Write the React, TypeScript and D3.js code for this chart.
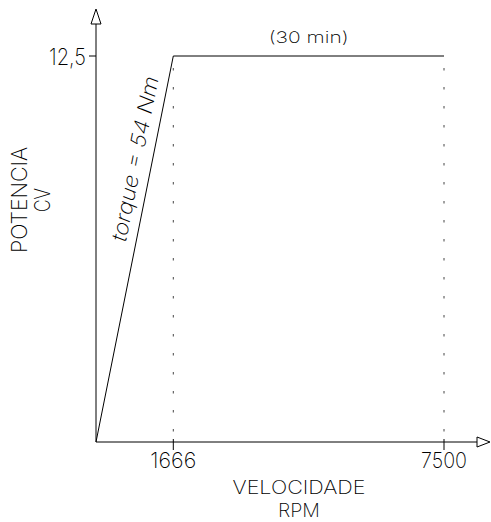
import React from "react";
import * as d3 from "d3";

const speeds = [0, 1666, 7500];
const power = [0, 12.5, 12.5];
const xTicks = [1666, 7500];
const xTickLabels = ["1666", "7500"];
const yTicks = [12.5];
const yTickLabels = ["12,5"];
const curveLabel = "torque = 54 Nm";
const dutyLabel = "(30 min)";
const xTitle = ["VELOCIDADE", "RPM"];
const yTitle = ["POTENCIA", "CV"];

const W = 491;
const H = 522;
const FONT = "Inter, Roboto, 'DejaVu Sans', sans-serif";
const WEIGHT = 200;

export default function App() {
  const x = d3.scaleLinear().domain([0, 7500]).range([96, 444]);
  const y = d3.scaleLinear().domain([0, 12.5]).range([442, 56]);
  const pts = speeds.map((s, i) => [x(s), y(power[i])] as [number, number]);
  const line = d3.line<[number, number]>()(pts) || "";

  const x0 = x(0);
  const y0 = y(0);

  const [ax, ay] = pts[0];
  const [bx, by] = pts[1];
  const ang = (Math.atan2(by - ay, bx - ax) * 180) / Math.PI;
  const len = Math.hypot(bx - ax, by - ay);
  const ux = (bx - ax) / len, uy = (by - ay) / len;
  const nx = uy, ny = -ux;
  const t = 0.725;
  const off = 10;
  const lx = ax + (bx - ax) * t + nx * off;
  const ly = ay + (by - ay) * t + ny * off;

  const txt = { fontFamily: FONT, fontWeight: WEIGHT, fill: "#000" } as const;

  return (
    <svg width={W} height={H} style={{ position: "absolute", left: 0, top: 0, background: "#fff" }}>
      <rect width={W} height={H} fill="#fff" />
      {xTicks.map((v) => (
        <line key={"d" + v} x1={x(v)} x2={x(v)} y1={y(12.5) + 12} y2={y0 - 4}
          stroke="#444" strokeWidth={1} strokeDasharray="2.5,16.5" />
      ))}
      <line x1={x0} x2={477} y1={y0} y2={y0} stroke="#000" strokeWidth={1} />
      <path d={`M477,${y0 - 5}L490,${y0}L477,${y0 + 5}Z`} fill="#fff" stroke="#000" strokeWidth={1} />
      <line x1={x0} x2={x0} y1={y0} y2={24} stroke="#000" strokeWidth={1} />
      <path d={`M${x0 - 5},24L${x0},9L${x0 + 5},24Z`} fill="#fff" stroke="#000" strokeWidth={1} />
      {xTicks.map((v, i) => (
        <g key={"xt" + v}>
          <line x1={x(v)} x2={x(v)} y1={y0 - 3} y2={y0 + 8} stroke="#000" strokeWidth={1} />
          <text x={x(v)} y={468} textAnchor="middle" {...txt}
            fontSize={22} textLength={46} lengthAdjust="spacingAndGlyphs">{xTickLabels[i]}</text>
        </g>
      ))}
      {yTicks.map((v, i) => (
        <g key={"yt" + v}>
          <line x1={x0 - 7} x2={x0} y1={y(v)} y2={y(v)} stroke="#000" strokeWidth={1} />
          <text x={86} y={y(v) + 8.5} textAnchor="end" {...txt}
            fontSize={23} textLength={37} lengthAdjust="spacingAndGlyphs">{yTickLabels[i]}</text>
        </g>
      ))}
      <path d={line} fill="none" stroke="#000" strokeWidth={1} />
      <text x={x(4583)} y={43} textAnchor="middle" {...txt}
        fontSize={16} textLength={80} lengthAdjust="spacingAndGlyphs">{dutyLabel}</text>
      <text transform={`translate(${lx},${ly}) rotate(${ang})`} textAnchor="middle" {...txt}
        fontStyle="italic" fontSize={21} textLength={168} lengthAdjust="spacingAndGlyphs">{curveLabel}</text>
      <text textAnchor="middle" {...txt} fontSize={19}>
        <tspan x={299} y={494} textLength={133} lengthAdjust="spacingAndGlyphs">{xTitle[0]}</tspan>
        <tspan x={299} y={516.5} textLength={42} lengthAdjust="spacingAndGlyphs">{xTitle[1]}</tspan>
      </text>
      <text transform={`translate(27,200) rotate(-90)`} textAnchor="middle" {...txt} fontSize={22}>
        <tspan x={0} y={0} textLength={106} lengthAdjust="spacingAndGlyphs">{yTitle[0]}</tspan>
        <tspan x={0} y={23} textLength={24} lengthAdjust="spacingAndGlyphs">{yTitle[1]}</tspan>
      </text>
    </svg>
  );
}
